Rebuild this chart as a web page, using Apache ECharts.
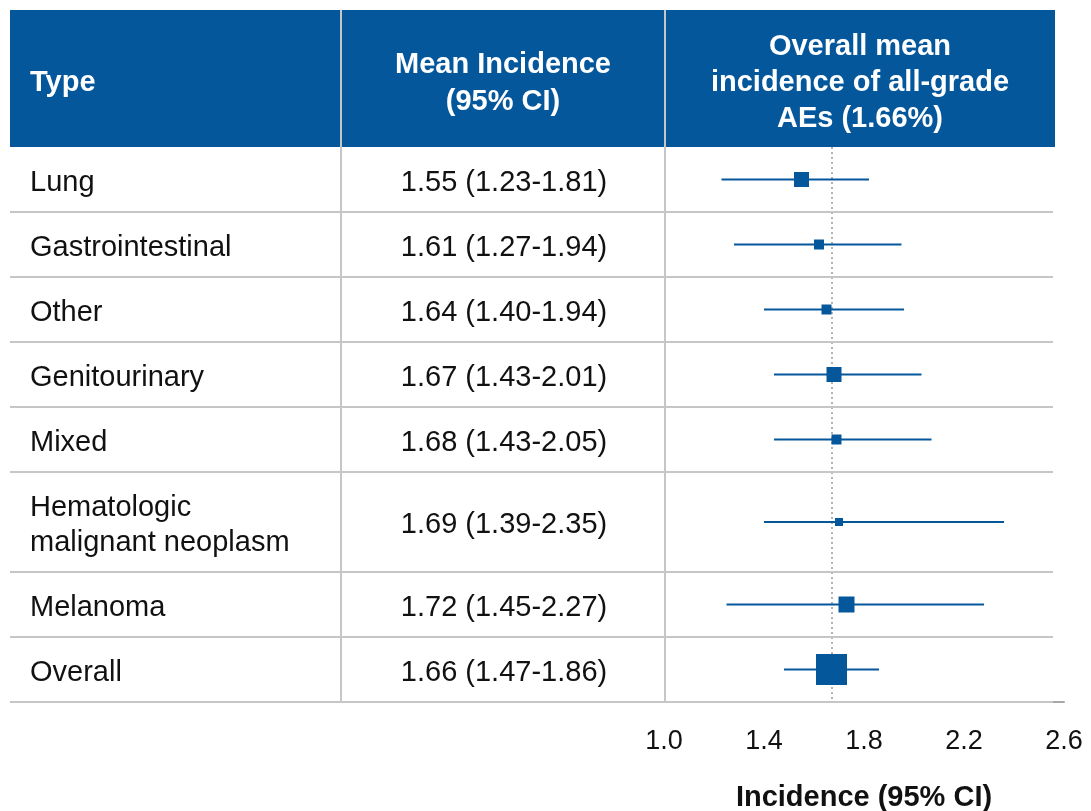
<!DOCTYPE html>
<html>
<head>
<meta charset="utf-8">
<style>
  html, body { margin: 0; padding: 0; background: #fff; }
  #chart { width: 1091px; height: 811px; }
</style>
<script src="https://cdn.jsdelivr.net/npm/echarts@6/dist/echarts.min.js"></script>
</head>
<body>
<div id="chart"></div>
<script>
// table rows (top to bottom)
const types = ['Lung', 'Gastrointestinal', 'Other', 'Genitourinary', 'Mixed', 'Hematologic\nmalignant neoplasm', 'Melanoma', 'Overall'];
const ciText = ['1.55 (1.23-1.81)', '1.61 (1.27-1.94)', '1.64 (1.40-1.94)', '1.67 (1.43-2.01)', '1.68 (1.43-2.05)', '1.69 (1.39-2.35)', '1.72 (1.45-2.27)', '1.66 (1.47-1.86)'];
// what the forest plot draws
const means = [1.55, 1.62, 1.65, 1.68, 1.69, 1.70, 1.73, 1.67];
const lows = [1.23, 1.28, 1.40, 1.44, 1.44, 1.40, 1.25, 1.48];
const highs = [1.82, 1.95, 1.96, 2.03, 2.07, 2.36, 2.28, 1.86];
const weights = [15, 10, 10, 15, 10, 8, 16, 31];
const overallMean = 1.67;
const xTicks = [1.0, 1.4, 1.8, 2.2, 2.6];

const blue = '#04579b';
const grey = '#c6c6c6';
const font = '"Liberation Sans", Arial, Helvetica, sans-serif';

// row heights in px, the hematologic row is two lines
const rowH = [65, 65, 65, 65, 65, 100, 65, 65];
const rowMid = [], rowEnd = [];
let acc = 0;
rowH.forEach(h => { rowMid.push(acc + h / 2); acc += h; rowEnd.push(acc); });
const totalH = acc;

const chart = echarts.init(document.getElementById('chart'));

chart.setOption({
  animation: false,
  grid: {left: 664, right: 27, top: 147, bottom: 109, containLabel: false, outerBoundsMode: 'none'},
  xAxis: {
    type: 'value',
    min: xTicks[0],
    max: xTicks[xTicks.length - 1],
    interval: 0.4,
    splitLine: {show: false},
    axisTick: {show: false},
    axisLine: {show: true, onZero: false, lineStyle: {color: '#a8a8a8', width: 2}},
    axisLabel: {
      margin: 26,
      fontSize: 27,
      fontFamily: font,
      color: '#111',
      formatter: v => v.toFixed(1)
    },
    name: 'Incidence (95% CI)',
    nameLocation: 'middle',
    nameGap: 81,
    nameTextStyle: {fontSize: 29, fontWeight: 'bold', fontFamily: font, color: '#111'}
  },
  yAxis: {type: 'value', inverse: true, min: 0, max: totalH, show: false},
  graphic: [
    {type: 'rect', z: 1, shape: {x: 10, y: 10, width: 1045, height: 137}, style: {fill: blue}},
    {type: 'line', z: 2, shape: {x1: 341, y1: 10, x2: 341, y2: 702}, style: {stroke: grey, lineWidth: 2}},
    {type: 'line', z: 2, shape: {x1: 665, y1: 10, x2: 665, y2: 702}, style: {stroke: grey, lineWidth: 2}},
    {type: 'text', z: 3, x: 30, y: 83, style: {text: 'Type', fill: '#fff', font: 'bold 29px ' + font, align: 'left', verticalAlign: 'middle'}},
    {type: 'text', z: 3, x: 503, y: 83, style: {text: 'Mean Incidence\n(95% CI)', fill: '#fff', font: 'bold 29px ' + font, align: 'center', verticalAlign: 'middle', lineHeight: 37}},
    {type: 'text', z: 3, x: 860, y: 83, style: {text: 'Overall mean\nincidence of all-grade\nAEs (1.66%)', fill: '#fff', font: 'bold 29px ' + font, align: 'center', verticalAlign: 'middle', lineHeight: 36}}
  ],
  series: [
    {
      // text columns, row separators and the overall reference line
      type: 'custom',
      clip: false,
      silent: true,
      z: 1,
      data: types.map((t, i) => [xTicks[0], rowMid[i], rowEnd[i]]),
      encode: {x: 0, y: 1},
      renderItem(params, api) {
        const i = params.dataIndex;
        const mid = api.coord([xTicks[0], api.value(1)])[1] + 3;
        const end = api.coord([xTicks[0], api.value(2)])[1];
        return {
          type: 'group',
          children: [
            {type: 'line', shape: {x1: 10, y1: end, x2: 1053, y2: end}, style: {stroke: grey, lineWidth: 2}},
            {type: 'text', x: 30, y: mid, style: {text: types[i], fill: '#111', font: '29px ' + font, align: 'left', verticalAlign: 'middle', lineHeight: 35}},
            {type: 'text', x: 504, y: mid, style: {text: ciText[i], fill: '#111', font: '29px ' + font, align: 'center', verticalAlign: 'middle'}}
          ]
        };
      },
      markLine: {
        z: 1,
        silent: true,
        symbol: 'none',
        label: {show: false},
        lineStyle: {color: '#b3b3b3', type: [2, 3], width: 2},
        data: [{xAxis: overallMean}]
      }
    },
    {
      // forest plot: CI whisker plus square sized by weight
      type: 'custom',
      z: 3,
      data: means.map((m, i) => [m, lows[i], highs[i], rowMid[i], weights[i]]),
      encode: {x: [0, 1, 2], y: 3},
      renderItem(params, api) {
        const y = api.value(3);
        const c = api.coord([api.value(0), y]);
        const lo = api.coord([api.value(1), y]);
        const hi = api.coord([api.value(2), y]);
        const s = api.value(4);
        return {
          type: 'group',
          children: [
            {type: 'line', shape: {x1: lo[0], y1: lo[1], x2: hi[0], y2: hi[1]}, style: {stroke: blue, lineWidth: 2}},
            {type: 'rect', shape: {x: c[0] - s / 2, y: c[1] - s / 2, width: s, height: s}, style: {fill: blue}}
          ]
        };
      }
    }
  ]
});
</script>
</body>
</html>
